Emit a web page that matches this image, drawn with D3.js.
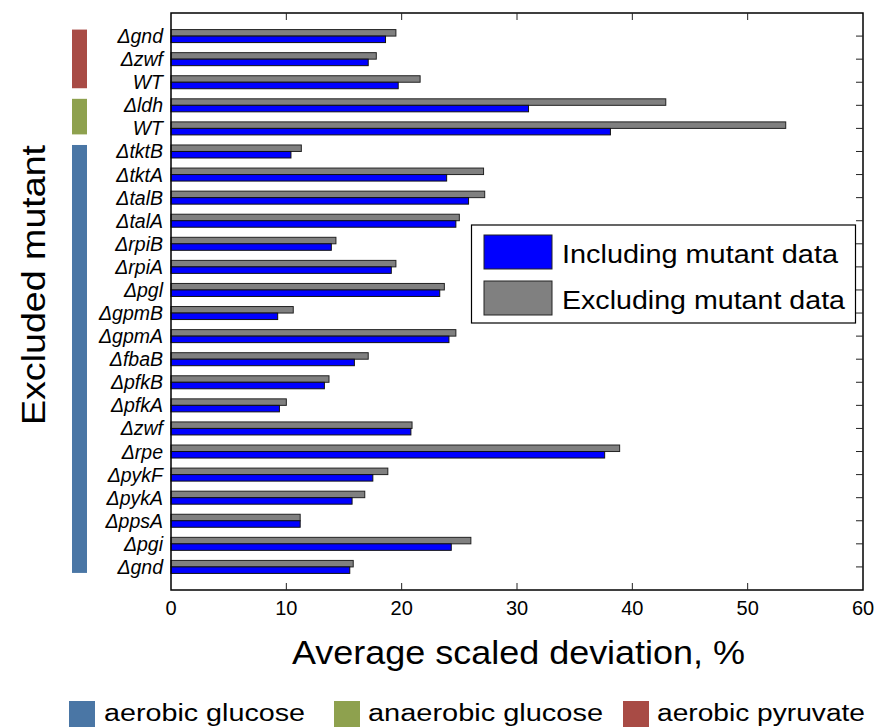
<!DOCTYPE html>
<html>
<head>
<meta charset="utf-8">
<script src="https://cdn.jsdelivr.net/npm/d3@7"></script>
<style>
  body { margin: 0; background: #fff; }
  svg { display: block; font-family: "Liberation Sans", Arial, sans-serif; }
</style>
</head>
<body>
<div id="chart"></div>
<script>
// mutants, top to bottom
const mutants = ["gnd", "zwf", "WT", "ldh", "WT", "tktB", "tktA", "talB", "talA", "rpiB", "rpiA",
  "pgl", "gpmB", "gpmA", "fbaB", "pfkB", "pfkA", "zwf", "rpe", "pykF", "pykA", "ppsA", "pgi", "gnd"];
const including = [18.6, 17.1, 19.7, 31.0, 38.1, 10.4, 23.9, 25.8, 24.7, 13.9, 19.1,
  23.3, 9.25, 24.1, 15.9, 13.3, 9.4, 20.8, 37.6, 17.5, 15.7, 11.2, 24.3, 15.5];
const excluding = [19.5, 17.8, 21.6, 42.9, 53.3, 11.3, 27.1, 27.2, 25.0, 14.3, 19.5,
  23.7, 10.6, 24.7, 17.1, 13.7, 10.0, 20.9, 38.9, 18.8, 16.8, 11.2, 26.0, 15.8];
const conditions = ["aerobic glucose", "anaerobic glucose", "aerobic pyruvate"];
const conditionColors = ["#4a76a5", "#8ea14e", "#a84b45"];
// condition of each row, top to bottom
const rowCondition = [2, 2, 2, 1, 1, 0, 0, 0, 0, 0, 0, 0, 0, 0, 0, 0, 0, 0, 0, 0, 0, 0, 0, 0];
const xTicks = [0, 10, 20, 30, 40, 50, 60];

const W = 878, H = 727;
const margin = {top: 13, right: 15, bottom: 137, left: 171};
const plotW = W - margin.left - margin.right;
const plotH = H - margin.top - margin.bottom;

const svg = d3.select("#chart").append("svg")
    .attr("width", W)
    .attr("height", H);

const x = d3.scaleLinear().domain([0, 60]).range([margin.left, margin.left + plotW]);
const y = d3.scaleLinear().domain([0, mutants.length + 1]).range([margin.top, margin.top + plotH]);
const barH = 6.5;

const rows = mutants.map((m, i) => ({name: m, inc: including[i], exc: excluding[i], pos: i + 1}));

// bars
svg.append("g").selectAll("rect")
    .data(rows).join("rect")
    .attr("x", x(0))
    .attr("y", d => y(d.pos) - barH)
    .attr("width", d => x(d.exc) - x(0))
    .attr("height", barH)
    .attr("fill", "#808080")
    .attr("stroke", "#222")
    .attr("stroke-width", 1);

svg.append("g").selectAll("rect")
    .data(rows).join("rect")
    .attr("x", x(0))
    .attr("y", d => y(d.pos))
    .attr("width", d => x(d.inc) - x(0))
    .attr("height", barH)
    .attr("fill", "#0000ff")
    .attr("stroke", "#111")
    .attr("stroke-width", 1);

// frame
svg.append("rect")
    .attr("x", x(0)).attr("y", margin.top)
    .attr("width", plotW).attr("height", plotH)
    .attr("fill", "none").attr("stroke", "#000").attr("stroke-width", 1.5);

// ticks
const tk = svg.append("g").attr("stroke", "#222").attr("stroke-width", 1);
xTicks.slice(1, -1).forEach(t => {
  tk.append("line").attr("x1", x(t)).attr("x2", x(t)).attr("y1", margin.top).attr("y2", margin.top + 7);
  tk.append("line").attr("x1", x(t)).attr("x2", x(t)).attr("y1", margin.top + plotH).attr("y2", margin.top + plotH - 7);
});
rows.forEach(d => {
  tk.append("line").attr("x1", x(60)).attr("x2", x(60) - 7).attr("y1", y(d.pos)).attr("y2", y(d.pos));
});

// tick labels
svg.append("g").selectAll("text")
    .data(xTicks).join("text")
    .attr("x", d => x(d))
    .attr("y", margin.top + plotH + 25)
    .attr("text-anchor", "middle")
    .attr("font-size", 20)
    .text(d => d);

svg.append("g").selectAll("text")
    .data(rows).join("text")
    .attr("x", x(0) - 8)
    .attr("y", d => y(d.pos) + 7)
    .attr("text-anchor", "end")
    .attr("font-size", 19.5)
    .attr("font-style", "italic")
    .text(d => d.name === "WT" ? "WT" : "\u0394" + d.name);

// condition strips
d3.range(3).forEach(c => {
  const idx = rowCondition.map((r, i) => r === c ? i + 1 : null).filter(v => v !== null);
  svg.append("rect")
      .attr("x", 72).attr("width", 15)
      .attr("y", y(d3.min(idx)) - 6.5)
      .attr("height", y(d3.max(idx)) - y(d3.min(idx)) + 12.5)
      .attr("fill", conditionColors[c]);
});

// axis titles
svg.append("text")
    .attr("x", 292).attr("y", 664)
    .attr("font-size", 34)
    .attr("textLength", 453).attr("lengthAdjust", "spacingAndGlyphs")
    .text("Average scaled deviation, %");

svg.append("text")
    .attr("transform", "translate(45,425) rotate(-90)")
    .attr("font-size", 34)
    .attr("textLength", 280).attr("lengthAdjust", "spacingAndGlyphs")
    .text("Excluded mutant");

// series legend
const lg = svg.append("g");
lg.append("rect").attr("x", 471.5).attr("y", 225).attr("width", 384).attr("height", 98)
    .attr("fill", "#fff").attr("stroke", "#000").attr("stroke-width", 1.2);
[["Including mutant data", "#0000ff", 276], ["Excluding mutant data", "#808080", 283]].forEach((e, i) => {
  lg.append("rect").attr("x", 484).attr("y", 235 + i * 46).attr("width", 68).attr("height", 34)
      .attr("fill", e[1]).attr("stroke", "#222").attr("stroke-width", 1);
  lg.append("text").attr("x", 562).attr("y", 263 + i * 46).attr("font-size", 26)
      .attr("textLength", e[2]).attr("lengthAdjust", "spacingAndGlyphs")
      .text(e[0]);
});

// condition legend
const cl = [{x: 69, tx: 104, ty: 721, w: 201}, {x: 334, tx: 368, ty: 721, w: 235}, {x: 623, tx: 657, ty: 721, w: 208}];
conditions.forEach((c, i) => {
  svg.append("rect").attr("x", cl[i].x).attr("y", 701).attr("width", 26).attr("height", 26)
      .attr("fill", conditionColors[i]);
  svg.append("text").attr("x", cl[i].tx).attr("y", cl[i].ty).attr("font-size", 23)
      .attr("textLength", cl[i].w).attr("lengthAdjust", "spacingAndGlyphs")
      .text(c);
});
</script>
</body>
</html>
